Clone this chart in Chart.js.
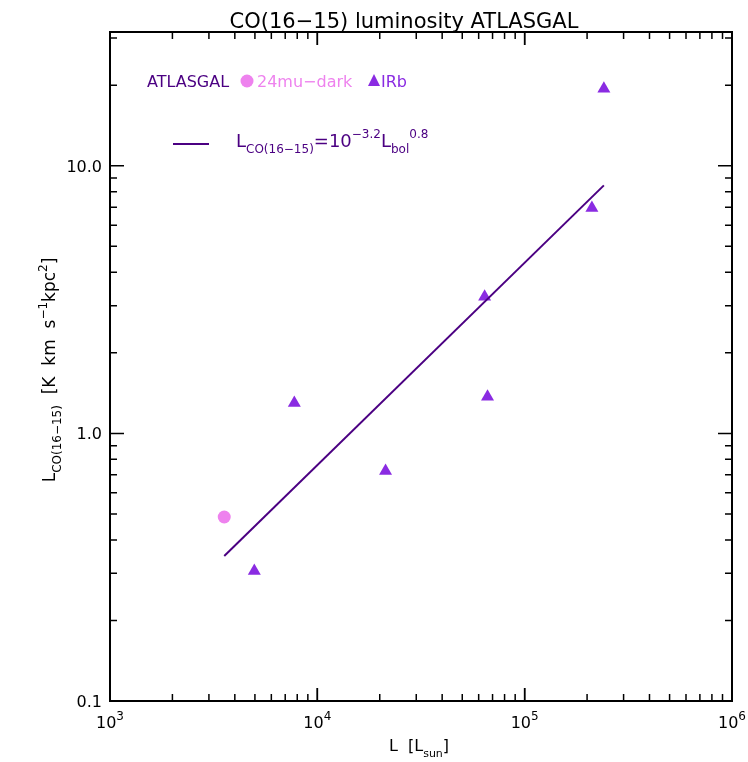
<!DOCTYPE html>
<html>
<head>
<meta charset="utf-8">
<script src="https://cdn.jsdelivr.net/npm/chart.js@4/dist/chart.umd.min.js"></script>
<style>
  body { margin: 0; background: #fff; }
  canvas { display: block; }
</style>
</head>
<body>
<canvas id="chart" width="748" height="762"></canvas>
<script>
// 24mu-dark sources
const darkL = [3556];
const darkCO = [0.487];
// IRb sources
const irbL = [4966, 7745, 21330, 64100, 66200, 211000, 241000];
const irbCO = [0.306, 1.30, 0.723, 3.24, 1.37, 6.96, 19.4];
// fit line end points
const fitL = [3556, 241000];
const fitCO = [0.348, 8.45];

const xTicks = [1e3, 1e4, 1e5, 1e6];
const xTickLabels = ['3', '4', '5', '6'];
const yTicks = [0.1, 1, 10];
const yTickLabels = ['0.1', '1.0', '10.0'];

const FONT = '"DejaVu Sans", "Liberation Sans", sans-serif';
const colDark = '#ee82ee';
const colIrb = '#8a2be2';
const colLine = '#4b0082';

// draw a run of text pieces with sub/superscripts, returns end x
function drawRich(ctx, parts, x, y, size, small, color, measureOnly) {
  let cx = x;
  parts.forEach(p => {
    let fs = size, dy = 0;
    if (p.s === 'sub') { fs = small; dy = size * 0.35; }
    if (p.s === 'sup') { fs = small; dy = -size * 0.5; }
    ctx.font = fs + 'px ' + FONT;
    if (!measureOnly) {
      ctx.fillStyle = p.c || color;
      ctx.fillText(p.t, cx, y + dy);
    }
    cx += ctx.measureText(p.t).width;
  });
  return cx;
}

const decor = {
  id: 'decor',
  afterDraw(chart) {
    const ctx = chart.ctx;
    const a = chart.chartArea;
    const xs = chart.scales.x, ys = chart.scales.y;
    ctx.save();

    // frame
    ctx.strokeStyle = '#000';
    ctx.lineWidth = 2;
    ctx.strokeRect(a.left, a.top, a.right - a.left, a.bottom - a.top);

    // x ticks (bottom + top, inward)
    ctx.lineWidth = 1.5;
    for (let d = 3; d < 6; d++) {
      for (let m = 1; m <= 10; m++) {
        const v = m * Math.pow(10, d);
        const px = xs.getPixelForValue(v);
        const len = (m === 1 || m === 10) ? 13 : 7;
        ctx.beginPath();
        ctx.moveTo(px, a.bottom); ctx.lineTo(px, a.bottom - len);
        ctx.moveTo(px, a.top); ctx.lineTo(px, a.top + len);
        ctx.stroke();
      }
    }
    // y ticks (left + right, inward)
    for (let d = -1; d <= 1; d++) {
      for (let m = 1; m <= 9; m++) {
        const v = m * Math.pow(10, d);
        if (v > ys.max) continue;
        const py = ys.getPixelForValue(v);
        const len = m === 1 ? 14 : 7;
        ctx.beginPath();
        ctx.moveTo(a.left, py); ctx.lineTo(a.left + len, py);
        ctx.moveTo(a.right, py); ctx.lineTo(a.right - len, py);
        ctx.stroke();
      }
    }

    // tick labels
    ctx.fillStyle = '#000';
    ctx.textBaseline = 'alphabetic';
    ctx.textAlign = 'left';
    xTicks.forEach((v, i) => {
      const px = xs.getPixelForValue(v);
      const parts = [{ t: '10' }, { t: xTickLabels[i], s: 'sup' }];
      const w = drawRich(ctx, parts, 0, 0, 16, 12, '#000', true);
      drawRich(ctx, parts, px - w / 2, a.bottom + 27, 16, 12, '#000');
    });
    ctx.font = '16px ' + FONT;
    ctx.textAlign = 'right';
    yTicks.forEach((v, i) => {
      const py = ys.getPixelForValue(v);
      ctx.fillText(yTickLabels[i], a.left - 8, py + 6);
    });
    ctx.textAlign = 'left';

    // title
    ctx.font = '21px ' + FONT;
    ctx.textAlign = 'center';
    ctx.fillText('CO(16\u221215) luminosity ATLASGAL', 404, 28);
    ctx.textAlign = 'left';

    // x axis title
    const xt = [{ t: 'L  [L' }, { t: 'sun', s: 'sub' }, { t: ']' }];
    const xw = drawRich(ctx, xt, 0, 0, 16, 11, '#000', true);
    drawRich(ctx, xt, 419 - xw / 2, 751, 16, 11, '#000');

    // y axis title (rotated)
    const yt = [{ t: 'L' }, { t: 'CO(16\u221215)', s: 'sub' }, { t: '  [K  km  s' },
      { t: '\u22121', s: 'sup' }, { t: 'kpc' }, { t: '2', s: 'sup' }, { t: ']' }];
    const yw = drawRich(ctx, yt, 0, 0, 17, 12, '#000', true);
    ctx.save();
    ctx.translate(55, 370);
    ctx.rotate(-Math.PI / 2);
    drawRich(ctx, yt, -yw / 2, 0, 17, 12, '#000');
    ctx.restore();

    // legend row 1
    const ly = 87;
    let lx = drawRich(ctx, [{ t: 'ATLASGAL' }], 147, ly, 16, 12, colLine);
    ctx.fillStyle = colDark;
    ctx.beginPath(); ctx.arc(247, 81, 6.5, 0, Math.PI * 2); ctx.fill();
    lx = drawRich(ctx, [{ t: '24mu\u2212dark' }], 257, ly, 16, 12, colDark);
    ctx.fillStyle = colIrb;
    const tx = 374;
    ctx.beginPath();
    ctx.moveTo(tx, ly - 13); ctx.lineTo(tx + 6, ly - 1); ctx.lineTo(tx - 6, ly - 1);
    ctx.closePath(); ctx.fill();
    drawRich(ctx, [{ t: 'IRb' }], 381, ly, 16, 12, colIrb);

    // legend row 2
    ctx.strokeStyle = colLine;
    ctx.lineWidth = 2;
    ctx.beginPath(); ctx.moveTo(173, 144); ctx.lineTo(209, 144); ctx.stroke();
    drawRich(ctx, [{ t: 'L' }, { t: 'CO(16\u221215)', s: 'sub' }, { t: '=10' },
      { t: '\u22123.2', s: 'sup' }, { t: 'L' }, { t: 'bol', s: 'sub' }, { t: '0.8', s: 'sup' }],
      236, 147, 18, 12, colLine);

    ctx.restore();
  }
};

new Chart(document.getElementById('chart'), {
  type: 'scatter',
  data: {
    datasets: [
      {
        label: 'fit',
        type: 'line',
        data: fitL.map((x, i) => ({ x: x, y: fitCO[i] })),
        borderColor: colLine,
        borderWidth: 2,
        pointRadius: 0,
        fill: false
      },
      {
        label: '24mu-dark',
        data: darkL.map((x, i) => ({ x: x, y: darkCO[i] })),
        pointStyle: 'circle',
        pointRadius: 6.5,
        backgroundColor: colDark,
        borderColor: colDark,
        borderWidth: 0
      },
      {
        label: 'IRb',
        data: irbL.map((x, i) => ({ x: x, y: irbCO[i] })),
        pointStyle: 'triangle',
        pointRadius: 7.5,
        backgroundColor: colIrb,
        borderColor: colIrb,
        borderWidth: 0
      }
    ]
  },
  options: {
    responsive: false,
    animation: false,
    layout: { padding: { left: 110, right: 16, top: 32, bottom: 61 } },
    plugins: { legend: { display: false }, tooltip: { enabled: false } },
    scales: {
      x: {
        type: 'logarithmic',
        min: 1e3, max: 1e6,
        ticks: { display: false },
        grid: { display: false, drawTicks: false },
        border: { display: false }
      },
      y: {
        type: 'logarithmic',
        min: 0.1, max: Math.pow(10, 1.5),
        ticks: { display: false },
        grid: { display: false, drawTicks: false },
        border: { display: false }
      }
    }
  },
  plugins: [decor]
});
</script>
</body>
</html>
